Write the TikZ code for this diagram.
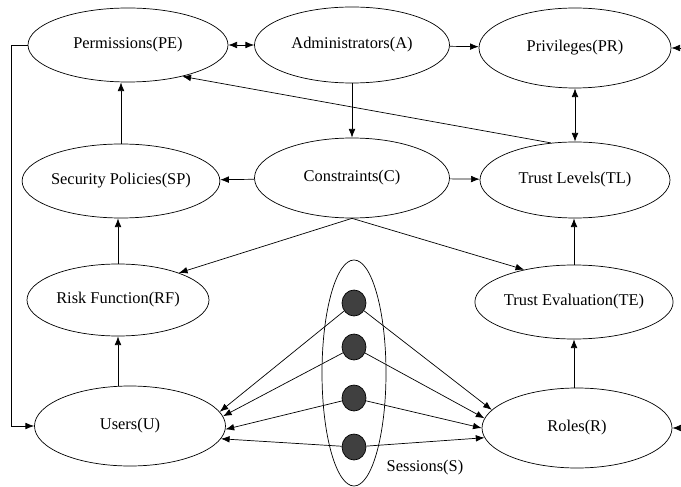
\documentclass[tikz,border=0pt]{standalone}
\usepackage{fontspec}
\setmainfont{Liberation Serif}
\usetikzlibrary{shapes.geometric,arrows.meta}

\begin{document}
\begin{tikzpicture}[x=0.03cm,y=-0.03cm,line width=0.6pt,
  >={Latex[length=2.6mm,width=2mm]},
  box/.style={draw,ellipse,inner sep=0pt,minimum width=190*0.03cm,minimum height=76*0.03cm,font=\fontsize{14}{17}\selectfont},
  sdot/.style={draw,ellipse,fill=black!75,inner sep=0pt,minimum width=0.72cm,minimum height=0.78cm}]
\useasboundingbox (0,0) rectangle (681,487);
% top row
\node[box,minimum width=6cm,minimum height=2.22cm] (pe) at (128,45) {Permissions(PE)};
\node[box,minimum width=5.85cm,minimum height=2.28cm] (adm) at (352,45) {Administrators(A)};
\node[box,minimum width=5.76cm,minimum height=2.4cm] (pr) at (575,48) {Privileges(PR)};
% second row
\node[box,minimum width=5.6cm,minimum height=2.22cm] (sp) at (121,181) {Security Policies(SP)};
\node[box,minimum width=5.85cm,minimum height=2.4cm] (c) at (352,178) {Constraints(C)};
\node[box,minimum height=2.28cm] (tl) at (575,180) {Trust Levels(TL)};
% third row
\node[box,minimum width=5.46cm,minimum height=2.16cm] (rf) at (118,300) {Risk Function(RF)};
\node[box,minimum height=2.22cm] (te) at (574,302) {Trust Evaluation(TE)};
% bottom row
\node[box,minimum width=5.73cm,minimum height=2.4cm] (u) at (130,426) {Users(U)};
\node[box,minimum height=2.4cm] (r) at (577,428) {Roles(R)};
% sessions
\node[draw,ellipse,inner sep=0pt,minimum width=1.92cm,minimum height=6.78cm] (ses) at (354,373) {};
\node[sdot] (d1) at (354,303) {};
\node[sdot] (d2) at (354,347) {};
\node[sdot] (d3) at (354,398) {};
\node[sdot] (d4) at (354,447) {};
\node[font=\fontsize{14}{17}\selectfont] (sl) at (425,468) {Sessions(S)};
\coordinate (lft) at (11,45);
\coordinate (prr) at (681,48);
\coordinate (rr) at (681,428);

\draw[<->] (pe) -- (adm);
\draw[->] (adm) -- (pr);
\draw[->] (adm) -- (c);
\draw[<->] (pr) -- (tl);
\draw[->] (tl.123) -- (pe.-30);
\draw[->] (c) -- (sp);
\draw[->] (c) -- (tl);
\draw[->] (c.south) -- (rf.24);
\draw[->] (c.south) -- (te.147);
\draw[->] (sp.north) -- (sp.north |- pe.south);
\draw[->] (rf.north) -- (rf.north |- sp.south);
\draw[->] (u.north -| rf.south) -- (rf.south);
\draw[->] (te.north) -- (te.north |- tl.south);
\draw[->] (r.north -| te.south) -- (te.south);
\draw[->] (pe.west) -- (lft) |- (u.west);
\draw[->] (prr) -- (pr.east);
\draw[->] (rr) -- (r.east);
% sessions to users and roles
\draw[->] (d1) -- (u.9);
\draw[->] (d2) -- (u.6);
\draw[->] (d3) -- (u.-2);
\draw[->] (d4) -- (u.-8);
\draw[->] (d1) -- (r.168);
\draw[->] (d2) -- (r.174);
\draw[->] (d3) -- (r.180);
\draw[->] (d4) -- (r.186);
\end{tikzpicture}
\end{document}
